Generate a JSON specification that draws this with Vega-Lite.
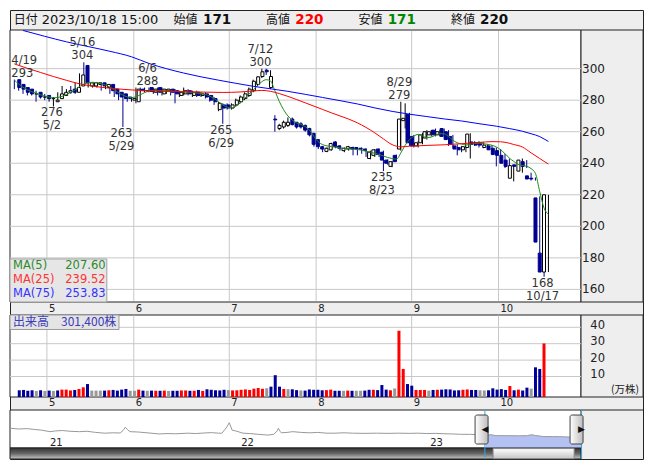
{
"$schema":"https://vega.github.io/schema/vega-lite/v6.json",
"width":633,"height":449,"autosize":"none",
"padding":{"left":10,"top":10,"right":10,"bottom":11},
"background":"#ffffff",
"config":{"view":{"fill":"#eeeeee","stroke":"#222222","strokeWidth":1},"axis":{"disable":true},"legend":{"disable":true},"text":{"font":"DejaVu Sans"}},
"datasets":{
"candles":[
{"i":0,"d":"4/19","o":293,"h":293,"l":287,"c":288,"v":1.6,"vd":"down"},
{"i":1,"d":"4/20","o":290,"h":291,"l":286,"c":287,"v":1.8,"vd":"down"},
{"i":2,"d":"4/21","o":288,"h":289,"l":284,"c":285,"v":1.3,"vd":"down"},
{"i":3,"d":"4/24","o":287,"h":288,"l":283,"c":284,"v":1.6,"vd":"down"},
{"i":4,"d":"4/25","o":284,"h":286,"l":283,"c":284,"v":1.2,"vd":"flat"},
{"i":5,"d":"4/26","o":285,"h":286,"l":279,"c":282,"v":1.6,"vd":"down"},
{"i":6,"d":"4/27","o":282,"h":284,"l":281,"c":282,"v":1.2,"vd":"flat"},
{"i":7,"d":"4/28","o":283,"h":284,"l":280,"c":281,"v":1.4,"vd":"down"},
{"i":8,"d":"5/1","o":281,"h":283,"l":279,"c":281,"v":1.2,"vd":"flat"},
{"i":9,"d":"5/2","o":279,"h":282,"l":276,"c":280,"v":1.5,"vd":"down"},
{"i":10,"d":"5/8","o":281,"h":285,"l":280,"c":284,"v":2.0,"vd":"up"},
{"i":11,"d":"5/9","o":283,"h":289,"l":282,"c":285,"v":2.0,"vd":"up"},
{"i":12,"d":"5/10","o":285,"h":287,"l":283,"c":286,"v":1.5,"vd":"up"},
{"i":13,"d":"5/11","o":287,"h":289,"l":284,"c":285,"v":1.8,"vd":"down"},
{"i":14,"d":"5/12","o":285,"h":291,"l":284,"c":288,"v":2.4,"vd":"up"},
{"i":15,"d":"5/15","o":289,"h":297,"l":288,"c":296,"v":3.4,"vd":"up"},
{"i":16,"d":"5/16","o":302,"h":304,"l":290,"c":291,"v":5.4,"vd":"down"},
{"i":17,"d":"5/17","o":289,"h":292,"l":288,"c":291,"v":1.4,"vd":"flat"},
{"i":18,"d":"5/18","o":289,"h":291,"l":288,"c":291,"v":1.4,"vd":"flat"},
{"i":19,"d":"5/19","o":290,"h":291,"l":288,"c":291,"v":1.4,"vd":"flat"},
{"i":20,"d":"5/22","o":291,"h":291,"l":286,"c":289,"v":1.4,"vd":"down"},
{"i":21,"d":"5/23","o":288,"h":291,"l":287,"c":290,"v":1.6,"vd":"up"},
{"i":22,"d":"5/24","o":290,"h":290,"l":284,"c":286,"v":1.8,"vd":"down"},
{"i":23,"d":"5/25","o":287,"h":287,"l":282,"c":284,"v":1.4,"vd":"down"},
{"i":24,"d":"5/26","o":285,"h":286,"l":280,"c":282,"v":2.0,"vd":"down"},
{"i":25,"d":"5/29","o":284,"h":285,"l":263,"c":281,"v":2.4,"vd":"down"},
{"i":26,"d":"5/30","o":282,"h":283,"l":279,"c":281,"v":1.3,"vd":"flat"},
{"i":27,"d":"5/31","o":280,"h":282,"l":279,"c":281,"v":1.3,"vd":"flat"},
{"i":28,"d":"6/1","o":279,"h":288,"l":278,"c":287,"v":2.0,"vd":"up"},
{"i":29,"d":"6/2","o":287,"h":288,"l":285,"c":286,"v":1.4,"vd":"down"},
{"i":30,"d":"6/5","o":286,"h":288,"l":285,"c":286,"v":1.3,"vd":"flat"},
{"i":31,"d":"6/6","o":288,"h":288,"l":285,"c":285.5,"v":1.4,"vd":"down"},
{"i":32,"d":"6/7","o":285,"h":288,"l":284,"c":287,"v":1.3,"vd":"up"},
{"i":33,"d":"6/8","o":288,"h":288,"l":283,"c":285,"v":1.3,"vd":"down"},
{"i":34,"d":"6/9","o":284,"h":288,"l":283,"c":287,"v":1.4,"vd":"up"},
{"i":35,"d":"6/12","o":286,"h":287,"l":284,"c":287,"v":1.2,"vd":"flat"},
{"i":36,"d":"6/13","o":287,"h":287,"l":283,"c":285,"v":1.3,"vd":"down"},
{"i":37,"d":"6/14","o":286,"h":287,"l":278,"c":284,"v":1.3,"vd":"down"},
{"i":38,"d":"6/15","o":283,"h":286,"l":282,"c":285,"v":1.5,"vd":"up"},
{"i":39,"d":"6/16","o":284,"h":288,"l":283,"c":286,"v":1.5,"vd":"up"},
{"i":40,"d":"6/19","o":286,"h":287,"l":283,"c":284,"v":1.3,"vd":"down"},
{"i":41,"d":"6/20","o":283,"h":286,"l":282,"c":285,"v":1.3,"vd":"up"},
{"i":42,"d":"6/21","o":285,"h":286,"l":282,"c":283,"v":1.8,"vd":"down"},
{"i":43,"d":"6/22","o":283,"h":285,"l":282,"c":284,"v":1.2,"vd":"up"},
{"i":44,"d":"6/23","o":284,"h":285,"l":281,"c":282,"v":2.2,"vd":"down"},
{"i":45,"d":"6/26","o":283,"h":283,"l":279,"c":280,"v":1.9,"vd":"down"},
{"i":46,"d":"6/27","o":281,"h":282,"l":277,"c":279,"v":1.6,"vd":"down"},
{"i":47,"d":"6/28","o":274,"h":279,"l":273,"c":278,"v":1.5,"vd":"down"},
{"i":48,"d":"6/29","o":277,"h":278,"l":265,"c":275,"v":1.9,"vd":"down"},
{"i":49,"d":"6/30","o":277,"h":278,"l":274,"c":275,"v":1.7,"vd":"flat"},
{"i":50,"d":"7/3","o":275,"h":278,"l":274,"c":277,"v":1.5,"vd":"up"},
{"i":51,"d":"7/4","o":277,"h":281,"l":276,"c":280,"v":1.6,"vd":"up"},
{"i":52,"d":"7/5","o":279,"h":283,"l":278,"c":282,"v":1.9,"vd":"up"},
{"i":53,"d":"7/6","o":281,"h":285,"l":280,"c":284,"v":2.1,"vd":"up"},
{"i":54,"d":"7/7","o":283,"h":288,"l":282,"c":287,"v":1.8,"vd":"up"},
{"i":55,"d":"7/10","o":286,"h":293,"l":285,"c":292,"v":2.6,"vd":"up"},
{"i":56,"d":"7/11","o":290,"h":295,"l":289,"c":294.8,"v":3.0,"vd":"up"},
{"i":57,"d":"7/12","o":295,"h":300,"l":294,"c":298,"v":2.5,"vd":"up"},
{"i":58,"d":"7/13","o":299,"h":300,"l":296,"c":298,"v":2.8,"vd":"flat"},
{"i":59,"d":"7/14","o":288,"h":299,"l":287,"c":295,"v":3.8,"vd":"down"},
{"i":60,"d":"7/18","o":268,"h":270.5,"l":260,"c":267.5,"v":10.8,"vd":"down"},
{"i":61,"d":"7/19","o":262,"h":265,"l":261,"c":264,"v":3.8,"vd":"down"},
{"i":62,"d":"7/20","o":263,"h":267,"l":262,"c":266,"v":2.4,"vd":"up"},
{"i":63,"d":"7/21","o":264,"h":269,"l":263,"c":266,"v":2.3,"vd":"flat"},
{"i":64,"d":"7/24","o":268,"h":269,"l":264,"c":264.5,"v":2.2,"vd":"down"},
{"i":65,"d":"7/25","o":266,"h":266,"l":262,"c":263,"v":1.7,"vd":"down"},
{"i":66,"d":"7/26","o":265,"h":266,"l":262,"c":263,"v":1.5,"vd":"flat"},
{"i":67,"d":"7/27","o":264,"h":264.5,"l":260,"c":261,"v":1.4,"vd":"down"},
{"i":68,"d":"7/28","o":262,"h":262.5,"l":257,"c":258,"v":2.1,"vd":"down"},
{"i":69,"d":"7/31","o":259,"h":259,"l":250.5,"c":252,"v":1.9,"vd":"down"},
{"i":70,"d":"8/1","o":255,"h":255,"l":249,"c":250.5,"v":1.9,"vd":"down"},
{"i":71,"d":"8/2","o":250.5,"h":251,"l":247,"c":249,"v":1.6,"vd":"down"},
{"i":72,"d":"8/3","o":247.5,"h":250,"l":247,"c":249.5,"v":1.7,"vd":"up"},
{"i":73,"d":"8/4","o":248.5,"h":253,"l":248,"c":252.5,"v":2.0,"vd":"up"},
{"i":74,"d":"8/7","o":253.5,"h":254,"l":249.5,"c":250.5,"v":1.3,"vd":"down"},
{"i":75,"d":"8/8","o":251,"h":251.5,"l":248,"c":249.5,"v":1.3,"vd":"down"},
{"i":76,"d":"8/9","o":248,"h":250,"l":247,"c":249.5,"v":1.3,"vd":"flat"},
{"i":77,"d":"8/10","o":249,"h":251,"l":248,"c":250.5,"v":1.4,"vd":"up"},
{"i":78,"d":"8/14","o":250,"h":250.5,"l":245,"c":249,"v":1.3,"vd":"down"},
{"i":79,"d":"8/15","o":250,"h":250,"l":245,"c":249,"v":1.3,"vd":"flat"},
{"i":80,"d":"8/16","o":249.5,"h":250,"l":246,"c":249,"v":1.3,"vd":"flat"},
{"i":81,"d":"8/17","o":249,"h":249.5,"l":244,"c":248,"v":1.4,"vd":"down"},
{"i":82,"d":"8/18","o":243,"h":248,"l":242.5,"c":247,"v":1.9,"vd":"down"},
{"i":83,"d":"8/21","o":245,"h":249,"l":244,"c":248.5,"v":1.9,"vd":"up"},
{"i":84,"d":"8/22","o":249,"h":249.5,"l":244,"c":245.5,"v":1.7,"vd":"down"},
{"i":85,"d":"8/23","o":247,"h":248,"l":235,"c":242,"v":4.8,"vd":"down"},
{"i":86,"d":"8/24","o":242,"h":242.5,"l":239,"c":240,"v":2.0,"vd":"down"},
{"i":87,"d":"8/25","o":238,"h":241.5,"l":237.5,"c":241,"v":1.6,"vd":"up"},
{"i":88,"d":"8/28","o":245,"h":245.5,"l":241,"c":241,"v":2.7,"vd":"flat"},
{"i":89,"d":"8/29","o":249,"h":279,"l":248,"c":268,"v":37.9,"vd":"up"},
{"i":90,"d":"8/30","o":267,"h":278,"l":262,"c":268.5,"v":14.6,"vd":"up"},
{"i":91,"d":"8/31","o":271,"h":272,"l":251,"c":253,"v":5.4,"vd":"down"},
{"i":92,"d":"9/1","o":257,"h":258,"l":250,"c":251,"v":4.4,"vd":"down"},
{"i":93,"d":"9/4","o":251,"h":254,"l":250,"c":253,"v":1.8,"vd":"up"},
{"i":94,"d":"9/5","o":253,"h":259,"l":252,"c":258,"v":1.8,"vd":"up"},
{"i":95,"d":"9/6","o":256,"h":261,"l":255,"c":260,"v":1.8,"vd":"up"},
{"i":96,"d":"9/7","o":258,"h":261,"l":257,"c":260,"v":1.4,"vd":"flat"},
{"i":97,"d":"9/8","o":261,"h":262,"l":257,"c":258,"v":1.8,"vd":"down"},
{"i":98,"d":"9/11","o":258,"h":261,"l":257,"c":260,"v":1.9,"vd":"up"},
{"i":99,"d":"9/12","o":262,"h":262,"l":255,"c":257,"v":2.0,"vd":"down"},
{"i":100,"d":"9/13","o":260,"h":261,"l":251,"c":255,"v":2.2,"vd":"down"},
{"i":101,"d":"9/14","o":257,"h":258,"l":250,"c":252,"v":2.1,"vd":"down"},
{"i":102,"d":"9/15","o":251,"h":252,"l":245,"c":249,"v":1.5,"vd":"down"},
{"i":103,"d":"9/19","o":250,"h":251,"l":247,"c":248.5,"v":1.6,"vd":"down"},
{"i":104,"d":"9/20","o":248.5,"h":251,"l":247,"c":250.5,"v":1.9,"vd":"up"},
{"i":105,"d":"9/21","o":250,"h":259,"l":243,"c":258.5,"v":2.1,"vd":"up"},
{"i":106,"d":"9/22","o":253.5,"h":254,"l":251,"c":252,"v":1.8,"vd":"down"},
{"i":107,"d":"9/25","o":253,"h":254,"l":250,"c":251.5,"v":1.8,"vd":"down"},
{"i":108,"d":"9/26","o":253,"h":253.5,"l":249.5,"c":251.5,"v":1.6,"vd":"flat"},
{"i":109,"d":"9/27","o":250,"h":252,"l":249,"c":251.5,"v":1.5,"vd":"flat"},
{"i":110,"d":"9/28","o":251,"h":251.5,"l":247,"c":248.5,"v":1.6,"vd":"down"},
{"i":111,"d":"9/29","o":249.5,"h":250,"l":238,"c":245.5,"v":2.8,"vd":"down"},
{"i":112,"d":"10/2","o":248,"h":249,"l":244,"c":245,"v":2.0,"vd":"down"},
{"i":113,"d":"10/3","o":245,"h":246,"l":237,"c":240,"v":2.3,"vd":"down"},
{"i":114,"d":"10/4","o":242,"h":243,"l":236,"c":238,"v":1.8,"vd":"down"},
{"i":115,"d":"10/5","o":230.5,"h":239,"l":228.5,"c":238.5,"v":4.2,"vd":"up"},
{"i":116,"d":"10/6","o":239,"h":240,"l":237,"c":238,"v":1.6,"vd":"down"},
{"i":117,"d":"10/10","o":235,"h":243,"l":234,"c":242,"v":2.0,"vd":"up"},
{"i":118,"d":"10/11","o":241,"h":242,"l":237,"c":238,"v":1.4,"vd":"down"},
{"i":119,"d":"10/12","o":232,"h":234,"l":229,"c":230,"v":3.2,"vd":"down"},
{"i":120,"d":"10/13","o":230.5,"h":231,"l":229,"c":230,"v":2.6,"vd":"flat"},
{"i":121,"d":"10/16","o":218,"h":219,"l":183,"c":190,"v":15.6,"vd":"down"},
{"i":122,"d":"10/17","o":183,"h":184,"l":168,"c":171,"v":14.6,"vd":"down"},
{"i":123,"d":"10/18","o":171,"h":220,"l":171,"c":220,"v":30.14,"vd":"up"}
],
"ma":[
{"i":0,"p":292.8,"ma":"MA5"},{"i":1,"p":290.2,"ma":"MA5"},{"i":2,"p":288.2,"ma":"MA5"},{"i":3,"p":286.6,"ma":"MA5"},{"i":4,"p":285.4,"ma":"MA5"},{"i":5,"p":284.4,"ma":"MA5"},{"i":6,"p":283.4,"ma":"MA5"},{"i":7,"p":282.6,"ma":"MA5"},{"i":8,"p":282,"ma":"MA5"},{"i":9,"p":281.5,"ma":"MA5"},
{"i":10,"p":281.7,"ma":"MA5"},{"i":11,"p":282.4,"ma":"MA5"},{"i":12,"p":283.6,"ma":"MA5"},{"i":13,"p":285,"ma":"MA5"},{"i":14,"p":286.5,"ma":"MA5"},{"i":15,"p":288.6,"ma":"MA5"},{"i":16,"p":290.2,"ma":"MA5"},{"i":17,"p":291,"ma":"MA5"},{"i":18,"p":291.3,"ma":"MA5"},{"i":19,"p":291.2,"ma":"MA5"},
{"i":20,"p":290.4,"ma":"MA5"},{"i":21,"p":289.6,"ma":"MA5"},{"i":22,"p":288.2,"ma":"MA5"},{"i":23,"p":286.6,"ma":"MA5"},{"i":24,"p":284.8,"ma":"MA5"},{"i":25,"p":283.2,"ma":"MA5"},{"i":26,"p":282.1,"ma":"MA5"},{"i":27,"p":281.6,"ma":"MA5"},{"i":28,"p":282.2,"ma":"MA5"},{"i":29,"p":283.4,"ma":"MA5"},
{"i":30,"p":284.8,"ma":"MA5"},{"i":31,"p":285.7,"ma":"MA5"},{"i":32,"p":286.2,"ma":"MA5"},{"i":33,"p":286.1,"ma":"MA5"},{"i":34,"p":286,"ma":"MA5"},{"i":35,"p":286.1,"ma":"MA5"},{"i":36,"p":285.9,"ma":"MA5"},{"i":37,"p":285.6,"ma":"MA5"},{"i":38,"p":285.4,"ma":"MA5"},{"i":39,"p":285.3,"ma":"MA5"},
{"i":40,"p":285,"ma":"MA5"},{"i":41,"p":284.8,"ma":"MA5"},{"i":42,"p":284.5,"ma":"MA5"},{"i":43,"p":284.2,"ma":"MA5"},{"i":44,"p":283.6,"ma":"MA5"},{"i":45,"p":282.6,"ma":"MA5"},{"i":46,"p":281,"ma":"MA5"},{"i":47,"p":279,"ma":"MA5"},{"i":48,"p":277,"ma":"MA5"},{"i":49,"p":275.6,"ma":"MA5"},
{"i":50,"p":275,"ma":"MA5"},{"i":51,"p":276.2,"ma":"MA5"},{"i":52,"p":278.2,"ma":"MA5"},{"i":53,"p":281,"ma":"MA5"},{"i":54,"p":283.8,"ma":"MA5"},{"i":55,"p":286.4,"ma":"MA5"},{"i":56,"p":289.2,"ma":"MA5"},{"i":57,"p":291.7,"ma":"MA5"},{"i":58,"p":293,"ma":"MA5"},{"i":59,"p":292.2,"ma":"MA5"},
{"i":60,"p":286,"ma":"MA5"},{"i":61,"p":279.3,"ma":"MA5"},{"i":62,"p":274,"ma":"MA5"},{"i":63,"p":270,"ma":"MA5"},{"i":64,"p":267.3,"ma":"MA5"},{"i":65,"p":265.6,"ma":"MA5"},{"i":66,"p":264.6,"ma":"MA5"},{"i":67,"p":263.2,"ma":"MA5"},{"i":68,"p":261,"ma":"MA5"},{"i":69,"p":257,"ma":"MA5"},
{"i":70,"p":253.6,"ma":"MA5"},{"i":71,"p":251.8,"ma":"MA5"},{"i":72,"p":251,"ma":"MA5"},{"i":73,"p":250.6,"ma":"MA5"},{"i":74,"p":250.2,"ma":"MA5"},{"i":75,"p":249.7,"ma":"MA5"},{"i":76,"p":249.4,"ma":"MA5"},{"i":77,"p":249.2,"ma":"MA5"},{"i":78,"p":249,"ma":"MA5"},{"i":79,"p":248.7,"ma":"MA5"},
{"i":80,"p":248.3,"ma":"MA5"},{"i":81,"p":247.7,"ma":"MA5"},{"i":82,"p":247,"ma":"MA5"},{"i":83,"p":246.3,"ma":"MA5"},{"i":84,"p":245.6,"ma":"MA5"},{"i":85,"p":244.6,"ma":"MA5"},{"i":86,"p":243.6,"ma":"MA5"},{"i":87,"p":243,"ma":"MA5"},{"i":88,"p":242.6,"ma":"MA5"},{"i":89,"p":246.5,"ma":"MA5"},
{"i":90,"p":251.4,"ma":"MA5"},{"i":91,"p":255,"ma":"MA5"},{"i":92,"p":257.2,"ma":"MA5"},{"i":93,"p":258.3,"ma":"MA5"},{"i":94,"p":257.3,"ma":"MA5"},{"i":95,"p":256.3,"ma":"MA5"},{"i":96,"p":256.6,"ma":"MA5"},{"i":97,"p":257.8,"ma":"MA5"},{"i":98,"p":258.8,"ma":"MA5"},{"i":99,"p":258.6,"ma":"MA5"},
{"i":100,"p":257,"ma":"MA5"},{"i":101,"p":254.6,"ma":"MA5"},{"i":102,"p":253,"ma":"MA5"},{"i":103,"p":252.2,"ma":"MA5"},{"i":104,"p":251.6,"ma":"MA5"},{"i":105,"p":252,"ma":"MA5"},{"i":106,"p":252.5,"ma":"MA5"},{"i":107,"p":252.7,"ma":"MA5"},{"i":108,"p":252.4,"ma":"MA5"},{"i":109,"p":252,"ma":"MA5"},
{"i":110,"p":251.4,"ma":"MA5"},{"i":111,"p":250.3,"ma":"MA5"},{"i":112,"p":248.5,"ma":"MA5"},{"i":113,"p":246,"ma":"MA5"},{"i":114,"p":243.3,"ma":"MA5"},{"i":115,"p":241.2,"ma":"MA5"},{"i":116,"p":239.4,"ma":"MA5"},{"i":117,"p":238.6,"ma":"MA5"},{"i":118,"p":238.1,"ma":"MA5"},{"i":119,"p":236.6,"ma":"MA5"},
{"i":120,"p":233.6,"ma":"MA5"},{"i":121,"p":222,"ma":"MA5"},{"i":122,"p":211.5,"ma":"MA5"},{"i":123,"p":207.6,"ma":"MA5"},
{"i":0,"p":303,"ma":"MA25"},{"i":3,"p":300.2,"ma":"MA25"},{"i":6,"p":297.6,"ma":"MA25"},{"i":9,"p":295,"ma":"MA25"},{"i":12,"p":292.6,"ma":"MA25"},{"i":15,"p":290.4,"ma":"MA25"},{"i":18,"p":288.9,"ma":"MA25"},{"i":21,"p":287.9,"ma":"MA25"},{"i":24,"p":287.1,"ma":"MA25"},{"i":28,"p":286.3,"ma":"MA25"},
{"i":32,"p":285.8,"ma":"MA25"},{"i":36,"p":285.5,"ma":"MA25"},{"i":40,"p":285.3,"ma":"MA25"},{"i":44,"p":285.1,"ma":"MA25"},{"i":48,"p":284.9,"ma":"MA25"},{"i":52,"p":285.2,"ma":"MA25"},{"i":55,"p":285.8,"ma":"MA25"},{"i":57,"p":286.2,"ma":"MA25"},{"i":59,"p":285.6,"ma":"MA25"},{"i":61,"p":284.2,"ma":"MA25"},
{"i":63,"p":282.4,"ma":"MA25"},{"i":65,"p":280.4,"ma":"MA25"},{"i":67,"p":278.3,"ma":"MA25"},{"i":69,"p":276.2,"ma":"MA25"},{"i":71,"p":274.1,"ma":"MA25"},{"i":73,"p":272,"ma":"MA25"},{"i":75,"p":270,"ma":"MA25"},{"i":77,"p":268,"ma":"MA25"},{"i":79,"p":265.6,"ma":"MA25"},{"i":81,"p":262.7,"ma":"MA25"},
{"i":83,"p":259.3,"ma":"MA25"},{"i":85,"p":255.4,"ma":"MA25"},{"i":87,"p":251.8,"ma":"MA25"},{"i":89,"p":250.4,"ma":"MA25"},{"i":91,"p":250.8,"ma":"MA25"},{"i":95,"p":251.3,"ma":"MA25"},{"i":99,"p":251.7,"ma":"MA25"},{"i":103,"p":252.4,"ma":"MA25"},{"i":107,"p":253.2,"ma":"MA25"},{"i":110,"p":253.7,"ma":"MA25"},
{"i":112,"p":253.6,"ma":"MA25"},{"i":113,"p":253.3,"ma":"MA25"},{"i":115,"p":251.9,"ma":"MA25"},{"i":117,"p":250.3,"ma":"MA25"},{"i":119,"p":246.6,"ma":"MA25"},{"i":121,"p":243,"ma":"MA25"},{"i":122,"p":241.2,"ma":"MA25"},{"i":123,"p":239.52,"ma":"MA25"},
{"i":2,"p":324.2,"ma":"MA75"},{"i":7,"p":320.5,"ma":"MA75"},{"i":12,"p":317,"ma":"MA75"},{"i":17,"p":314,"ma":"MA75"},{"i":22,"p":311,"ma":"MA75"},{"i":27,"p":307.5,"ma":"MA75"},{"i":31,"p":303.3,"ma":"MA75"},{"i":35,"p":300,"ma":"MA75"},{"i":39,"p":297.2,"ma":"MA75"},{"i":43,"p":294.8,"ma":"MA75"},
{"i":47,"p":292.7,"ma":"MA75"},{"i":51,"p":290.7,"ma":"MA75"},{"i":55,"p":288.8,"ma":"MA75"},{"i":59,"p":287.2,"ma":"MA75"},{"i":63,"p":285.6,"ma":"MA75"},{"i":67,"p":283.7,"ma":"MA75"},{"i":71,"p":281.7,"ma":"MA75"},{"i":75,"p":279.7,"ma":"MA75"},{"i":79,"p":277.6,"ma":"MA75"},{"i":83,"p":275.1,"ma":"MA75"},
{"i":87,"p":272.9,"ma":"MA75"},{"i":91,"p":271.1,"ma":"MA75"},{"i":95,"p":269.6,"ma":"MA75"},{"i":99,"p":268.1,"ma":"MA75"},{"i":103,"p":266.8,"ma":"MA75"},{"i":107,"p":265.1,"ma":"MA75"},{"i":111,"p":263.5,"ma":"MA75"},{"i":114,"p":262,"ma":"MA75"},{"i":117,"p":260.3,"ma":"MA75"},{"i":119,"p":258.7,"ma":"MA75"},
{"i":121,"p":256.9,"ma":"MA75"},{"i":122,"p":255.4,"ma":"MA75"},{"i":123,"p":253.83,"ma":"MA75"}
],
"notes":[
{"i":0,"p":293,"t":"4/19\n293","k":"first"},
{"i":16,"p":304,"t":"5/16\n304","k":"high"},
{"i":31,"p":288,"t":"6/6\n288","k":"high"},
{"i":57,"p":300,"t":"7/12\n300","k":"high"},
{"i":89,"p":279,"t":"8/29\n279","k":"high"},
{"i":9,"p":276,"t":"276\n5/2","k":"low"},
{"i":25,"p":263,"t":"263\n5/29","k":"low"},
{"i":48,"p":265,"t":"265\n6/29","k":"low"},
{"i":85,"p":235,"t":"235\n8/23","k":"low"},
{"i":122,"p":168,"t":"168\n10/17","k":"low"}
],
"pticks":[{"p":160},{"p":180},{"p":200},{"p":220},{"p":240},{"p":260},{"p":280},{"p":300}],
"vticks":[{"v":10},{"v":20},{"v":30},{"v":40}],
"months":[{"b":7.5,"m":"5"},{"b":27.5,"m":"6"},{"b":49.5,"m":"7"},{"b":69.5,"m":"8"},{"b":91.5,"m":"9"},{"b":111.5,"m":"10"}],
"legend":[{"name":"MA(5)","val":"207.60"},{"name":"MA(25)","val":"239.52"},{"name":"MA(75)","val":"253.83"}],
"hdr":[{"f":"open","k":"始値","v":"171"},{"f":"high","k":"高値","v":"220"},{"f":"low","k":"安値","v":"171"},{"f":"close","k":"終値","v":"220"}],
"years":[{"t":7,"y":"21"},{"t":40.5,"y":"22"},{"t":73.6,"y":"23"}],
"sel":[{"t":83.17,"a":"◀"},{"t":100.1,"a":"▶"}],
"nav":[
{"t":0,"v":5.2},{"t":1.5,"v":5.0},{"t":3,"v":5.1},{"t":4.1,"v":4.9},{"t":5.5,"v":4.7},{"t":7,"v":4.3},{"t":8,"v":4.5},{"t":9.2,"v":4.6},{"t":10.5,"v":4.4},{"t":12.2,"v":4.3},
{"t":13.5,"v":4.4},{"t":15,"v":4.1},{"t":16.6,"v":3.9},{"t":18,"v":4.0},{"t":19.3,"v":3.95},{"t":19.8,"v":4.6},{"t":20.2,"v":5.45},{"t":20.6,"v":4.8},{"t":21,"v":4.3},{"t":22.5,"v":4.2},
{"t":24,"v":4.0},{"t":26.1,"v":3.7},{"t":27.5,"v":3.8},{"t":29,"v":3.75},{"t":31.2,"v":3.9},{"t":32.5,"v":3.8},{"t":34,"v":3.95},{"t":35.3,"v":4.05},{"t":36.5,"v":3.9},{"t":37.1,"v":3.9},
{"t":37.6,"v":4.8},{"t":38,"v":5.6},{"t":38.4,"v":6.66},{"t":38.7,"v":5.5},{"t":38.9,"v":4.7},{"t":39.5,"v":4.5},{"t":40.8,"v":3.9},{"t":42,"v":3.8},{"t":43.5,"v":3.6},{"t":45.2,"v":3.4},
{"t":46.2,"v":3.6},{"t":46.8,"v":4.5},{"t":47,"v":5.2},{"t":47.3,"v":4.4},{"t":47.5,"v":4.0},{"t":48.5,"v":4.1},{"t":49.5,"v":4.3},{"t":51,"v":4.1},{"t":52.5,"v":4.0},{"t":53.9,"v":4.1},
{"t":55.5,"v":3.9},{"t":56.9,"v":3.9},{"t":58.5,"v":4.0},{"t":60,"v":3.9},{"t":62,"v":3.85},{"t":64.2,"v":3.9},{"t":66,"v":3.85},{"t":68,"v":3.9},{"t":70,"v":3.85},{"t":71.5,"v":3.9},
{"t":73,"v":3.8},{"t":74.5,"v":3.85},{"t":76,"v":3.75},{"t":77.5,"v":3.7},{"t":78.9,"v":3.6},{"t":80.5,"v":3.6},{"t":82,"v":3.5},{"t":83.3,"v":3.4},{"t":84.2,"v":3.5},{"t":85.1,"v":3.25},
{"t":87,"v":3.25},{"t":89,"v":3.2},{"t":90.6,"v":3.25},{"t":91.3,"v":3.5},{"t":92,"v":3.3},{"t":93.5,"v":3.0},{"t":95,"v":3.0},{"t":97,"v":2.95},{"t":99,"v":2.8},{"t":100,"v":2.7}
]
},
"resolve":{"scale":{"x":"independent","y":"independent","color":"independent","fill":"independent","stroke":"independent"}},
"layer":[
{"data":{"values":[{}]},"mark":{"type":"rect","fill":"#ffffff","stroke":"#222222","strokeWidth":1},"encoding":{"x":{"datum":-1,"type":"quantitative","scale":{"domain":[-1,130.5],"range":[0,571],"nice":false,"zero":false}},"x2":{"datum":130.5},"y":{"datum":152,"type":"quantitative","scale":{"domain":[152,324.5],"range":[292,20],"nice":false,"zero":false}},"y2":{"datum":324.5}}},
{"data":{"values":[{}]},"mark":{"type":"rect","fill":"#eeeeee","stroke":"#222222","strokeWidth":1},"encoding":{"x":{"datum":130.5,"type":"quantitative","scale":{"domain":[-1,130.5],"range":[0,571],"nice":false,"zero":false}},"x2":{"datum":144.8},"y":{"datum":152,"type":"quantitative","scale":{"domain":[152,324.5],"range":[292,20],"nice":false,"zero":false}},"y2":{"datum":324.5}}},
{"data":{"values":[{}]},"mark":{"type":"rect","fill":"#ffffff","stroke":"#222222","strokeWidth":1},"encoding":{"x":{"datum":-1,"type":"quantitative","scale":{"domain":[-1,130.5],"range":[0,571],"nice":false,"zero":false}},"x2":{"datum":130.5},"y":{"datum":-2.5,"type":"quantitative","scale":{"domain":[-2.5,47.5],"range":[387,305],"nice":false,"zero":false}},"y2":{"datum":47.5}}},
{"data":{"values":[{}]},"mark":{"type":"rect","fill":"#eeeeee","stroke":"#222222","strokeWidth":1},"encoding":{"x":{"datum":130.5,"type":"quantitative","scale":{"domain":[-1,130.5],"range":[0,571],"nice":false,"zero":false}},"x2":{"datum":144.8},"y":{"datum":-2.5,"type":"quantitative","scale":{"domain":[-2.5,47.5],"range":[387,305],"nice":false,"zero":false}},"y2":{"datum":47.5}}},
{"data":{"values":[{}]},"mark":{"type":"rect","fill":"#ffffff","stroke":"#222222","strokeWidth":1},"encoding":{"x":{"datum":0,"type":"quantitative","scale":{"domain":[0,100],"range":[0,571],"nice":false,"zero":false}},"x2":{"datum":100},"y":{"datum":0,"type":"quantitative","scale":{"domain":[0,10],"range":[438,400],"nice":false,"zero":false}},"y2":{"datum":10}}},
{"data":{"values":[{}]},"mark":{"type":"rule","stroke":"#222222","strokeWidth":1},"encoding":{"x":{"datum":100,"type":"quantitative","scale":{"domain":[0,100],"range":[0,571],"nice":false,"zero":false}},"x2":{"datum":110.9},"y":{"datum":10,"type":"quantitative","scale":{"domain":[0,10],"range":[438,400],"nice":false,"zero":false}}}},
{"data":{"name":"pticks"},"mark":{"type":"rule","stroke":"#c8c8c8","strokeWidth":1},"encoding":{"x":{"datum":-1,"type":"quantitative","scale":{"domain":[-1,130.5],"range":[0,571],"nice":false,"zero":false}},"x2":{"datum":130.5},"y":{"field":"p","type":"quantitative","scale":{"domain":[152,324.5],"range":[292,20],"nice":false,"zero":false}}}},
{"data":{"name":"months"},"mark":{"type":"rule","stroke":"#c8c8c8","strokeWidth":1},"encoding":{"x":{"field":"b","type":"quantitative","scale":{"domain":[-1,130.5],"range":[0,571],"nice":false,"zero":false}},"y":{"datum":152.6,"type":"quantitative","scale":{"domain":[152,324.5],"range":[292,20],"nice":false,"zero":false}},"y2":{"datum":323.9}}},
{"data":{"name":"vticks"},"mark":{"type":"rule","stroke":"#c8c8c8","strokeWidth":1},"encoding":{"x":{"datum":-1,"type":"quantitative","scale":{"domain":[-1,130.5],"range":[0,571],"nice":false,"zero":false}},"x2":{"datum":130.5},"y":{"field":"v","type":"quantitative","scale":{"domain":[-2.5,47.5],"range":[387,305],"nice":false,"zero":false}}}},
{"data":{"name":"months"},"mark":{"type":"rule","stroke":"#c8c8c8","strokeWidth":1},"encoding":{"x":{"field":"b","type":"quantitative","scale":{"domain":[-1,130.5],"range":[0,571],"nice":false,"zero":false}},"y":{"datum":-2.2,"type":"quantitative","scale":{"domain":[-2.5,47.5],"range":[387,305],"nice":false,"zero":false}},"y2":{"datum":47.2}}},
{"data":{"values":[{}]},"mark":{"type":"rect","fill":"#e6e6e6","stroke":"#a0a0a0","strokeWidth":1},"encoding":{"x":{"datum":-1,"type":"quantitative","scale":{"domain":[-1,130.5],"range":[0,571],"nice":false,"zero":false}},"x2":{"datum":21.3},"y":{"datum":152,"type":"quantitative","scale":{"domain":[152,324.5],"range":[292,20],"nice":false,"zero":false}},"y2":{"datum":179.3}}},
{"data":{"name":"legend"},"mark":{"type":"text","align":"left","baseline":"middle","fontSize":11.5},"encoding":{"x":{"datum":-0.3,"type":"quantitative","scale":{"domain":[-1,130.5],"range":[0,571],"nice":false,"zero":false}},"y":{"field":"name","type":"nominal","scale":{"type":"point","domain":["MA(5)","MA(25)","MA(75)"],"range":[255.7,284],"padding":0}},"text":{"field":"name"},"color":{"field":"name","type":"nominal","scale":{"domain":["MA(5)","MA(25)","MA(75)"],"range":["#2a8a2a","#ff3333","#3333ff"]},"legend":null}}},
{"data":{"name":"legend"},"mark":{"type":"text","align":"right","baseline":"middle","fontSize":11.5},"encoding":{"x":{"datum":21.0,"type":"quantitative","scale":{"domain":[-1,130.5],"range":[0,571],"nice":false,"zero":false}},"y":{"field":"name","type":"nominal","scale":{"type":"point","domain":["MA(5)","MA(25)","MA(75)"],"range":[255.7,284],"padding":0}},"text":{"field":"val"},"color":{"field":"name","type":"nominal","scale":{"domain":["MA(5)","MA(25)","MA(75)"],"range":["#2a8a2a","#ff3333","#3333ff"]},"legend":null}}},
{"data":{"name":"candles"},"mark":{"type":"rule","strokeWidth":1},"encoding":{"x":{"field":"i","type":"quantitative","scale":{"domain":[-1,130.5],"range":[0,571],"nice":false,"zero":false}},"y":{"field":"l","type":"quantitative","scale":{"domain":[152,324.5],"range":[292,20],"nice":false,"zero":false}},"y2":{"field":"h"},"stroke":{"condition":{"test":"datum.c >= datum.o","value":"#000000"},"value":"#000090"}}},
{"data":{"name":"candles"},"mark":{"type":"bar","size":3,"strokeWidth":1},"encoding":{"x":{"field":"i","type":"quantitative","scale":{"domain":[-1,130.5],"range":[0,571],"nice":false,"zero":false}},"y":{"field":"o","type":"quantitative","scale":{"domain":[152,324.5],"range":[292,20],"nice":false,"zero":false}},"y2":{"field":"c"},"fill":{"condition":{"test":"datum.c >= datum.o","value":"#ffffff"},"value":"#000090"},"stroke":{"condition":{"test":"datum.c >= datum.o","value":"#000000"},"value":"#000090"}}},
{"data":{"name":"ma"},"mark":{"type":"line","strokeWidth":1,"interpolate":"monotone"},"encoding":{"x":{"field":"i","type":"quantitative","scale":{"domain":[-1,130.5],"range":[0,571],"nice":false,"zero":false}},"y":{"field":"p","type":"quantitative","scale":{"domain":[152,324.5],"range":[292,20],"nice":false,"zero":false}},"color":{"field":"ma","type":"nominal","scale":{"domain":["MA5","MA25","MA75"],"range":["#1e8c1e","#ff0000","#0000ff"]},"legend":null}}},
{"data":{"name":"notes"},"transform":[{"filter":"datum.k == 'high'"}],"mark":{"type":"text","align":"center","baseline":"bottom","dx":-1.5,"dy":-14,"fontSize":11.5,"lineBreak":"\n","lineHeight":13,"fill":"#333333"},"encoding":{"x":{"field":"i","type":"quantitative","scale":{"domain":[-1,130.5],"range":[0,571],"nice":false,"zero":false}},"y":{"field":"p","type":"quantitative","scale":{"domain":[152,324.5],"range":[292,20],"nice":false,"zero":false}},"text":{"field":"t"}}},
{"data":{"name":"notes"},"transform":[{"filter":"datum.k == 'first'"}],"mark":{"type":"text","align":"left","baseline":"bottom","dx":-3,"dy":-14,"fontSize":11.5,"lineBreak":"\n","lineHeight":13,"fill":"#333333"},"encoding":{"x":{"field":"i","type":"quantitative","scale":{"domain":[-1,130.5],"range":[0,571],"nice":false,"zero":false}},"y":{"field":"p","type":"quantitative","scale":{"domain":[152,324.5],"range":[292,20],"nice":false,"zero":false}},"text":{"field":"t"}}},
{"data":{"name":"notes"},"transform":[{"filter":"datum.k == 'low'"}],"mark":{"type":"text","align":"center","baseline":"top","dx":-1.5,"dy":1,"fontSize":11.5,"lineBreak":"\n","lineHeight":13,"fill":"#333333"},"encoding":{"x":{"field":"i","type":"quantitative","scale":{"domain":[-1,130.5],"range":[0,571],"nice":false,"zero":false}},"y":{"field":"p","type":"quantitative","scale":{"domain":[152,324.5],"range":[292,20],"nice":false,"zero":false}},"text":{"field":"t"}}},
{"data":{"name":"pticks"},"mark":{"type":"text","align":"right","baseline":"middle","dx":24,"fontSize":12,"fill":"#222222"},"encoding":{"x":{"datum":130.5,"type":"quantitative","scale":{"domain":[-1,130.5],"range":[0,571],"nice":false,"zero":false}},"y":{"field":"p","type":"quantitative","scale":{"domain":[152,324.5],"range":[292,20],"nice":false,"zero":false}},"text":{"field":"p","type":"quantitative"}}},
{"data":{"name":"months"},"mark":{"type":"text","align":"left","baseline":"middle","dx":2,"dy":6.5,"fontSize":10,"fill":"#222222"},"encoding":{"x":{"field":"b","type":"quantitative","scale":{"domain":[-1,130.5],"range":[0,571],"nice":false,"zero":false}},"y":{"datum":152,"type":"quantitative","scale":{"domain":[152,324.5],"range":[292,20],"nice":false,"zero":false}},"text":{"field":"m"}}},
{"data":{"name":"candles"},"mark":{"type":"bar","size":3},"encoding":{"x":{"field":"i","type":"quantitative","scale":{"domain":[-1,130.5],"range":[0,571],"nice":false,"zero":false}},"y":{"field":"v","type":"quantitative","scale":{"domain":[-2.5,47.5],"range":[387,305],"nice":false,"zero":false}},"y2":{"datum":-2.5},"color":{"field":"vd","type":"nominal","scale":{"domain":["up","down","flat"],"range":["#ff0000","#000099","#999999"]},"legend":null}}},
{"data":{"values":[{}]},"mark":{"type":"rect","fill":"#e4e4e4","stroke":"#9a9a9a","strokeWidth":1},"encoding":{"x":{"datum":-1,"type":"quantitative","scale":{"domain":[-1,130.5],"range":[0,571],"nice":false,"zero":false}},"x2":{"datum":24.1},"y":{"datum":38.66,"type":"quantitative","scale":{"domain":[-2.5,47.5],"range":[387,305],"nice":false,"zero":false}},"y2":{"datum":47.5}}},
{"data":{"values":[{"label":"出来高　301,400株"}]},"mark":{"type":"text","align":"left","baseline":"middle","font":"Noto Sans CJK JP","fontSize":12,"fill":"#3b3bbb"},"encoding":{"x":{"datum":-0.3,"type":"quantitative","scale":{"domain":[-1,130.5],"range":[0,571],"nice":false,"zero":false}},"y":{"datum":43.05,"type":"quantitative","scale":{"domain":[-2.5,47.5],"range":[387,305],"nice":false,"zero":false}},"text":{"field":"label"}}},
{"data":{"name":"vticks"},"mark":{"type":"text","align":"right","baseline":"middle","dx":24,"dy":-1.5,"fontSize":11.5,"fill":"#222222"},"encoding":{"x":{"datum":130.5,"type":"quantitative","scale":{"domain":[-1,130.5],"range":[0,571],"nice":false,"zero":false}},"y":{"field":"v","type":"quantitative","scale":{"domain":[-2.5,47.5],"range":[387,305],"nice":false,"zero":false}},"text":{"field":"v","type":"quantitative"}}},
{"data":{"values":[{"unit":"(万株)"}]},"mark":{"type":"text","align":"right","baseline":"middle","dx":58,"font":"Noto Sans CJK JP","fontSize":10.5,"fill":"#222222"},"encoding":{"x":{"datum":130.5,"type":"quantitative","scale":{"domain":[-1,130.5],"range":[0,571],"nice":false,"zero":false}},"y":{"datum":1.77,"type":"quantitative","scale":{"domain":[-2.5,47.5],"range":[387,305],"nice":false,"zero":false}},"text":{"field":"unit"}}},
{"data":{"name":"months"},"mark":{"type":"text","align":"left","baseline":"middle","dx":2,"dy":6,"fontSize":10,"fill":"#222222"},"encoding":{"x":{"field":"b","type":"quantitative","scale":{"domain":[-1,130.5],"range":[0,571],"nice":false,"zero":false}},"y":{"datum":-2.5,"type":"quantitative","scale":{"domain":[-2.5,47.5],"range":[387,305],"nice":false,"zero":false}},"text":{"field":"m"}}},
{"data":{"name":"nav"},"transform":[{"filter":"datum.t >= 83"}],"mark":{"type":"area","fill":"#b3c2f2"},"encoding":{"x":{"field":"t","type":"quantitative","scale":{"domain":[0,100],"range":[0,571],"nice":false,"zero":false}},"y":{"field":"v","type":"quantitative","scale":{"domain":[0,10],"range":[438,400],"nice":false,"zero":false}},"y2":{"datum":0}}},
{"data":{"name":"nav"},"mark":{"type":"line","stroke":"#999999","strokeWidth":1},"encoding":{"x":{"field":"t","type":"quantitative","scale":{"domain":[0,100],"range":[0,571],"nice":false,"zero":false}},"y":{"field":"v","type":"quantitative","scale":{"domain":[0,10],"range":[438,400],"nice":false,"zero":false}}}},
{"data":{"name":"years"},"mark":{"type":"text","align":"left","baseline":"middle","fontSize":10,"fill":"#222222"},"encoding":{"x":{"field":"t","type":"quantitative","scale":{"domain":[0,100],"range":[0,571],"nice":false,"zero":false}},"y":{"datum":1.3,"type":"quantitative","scale":{"domain":[0,10],"range":[438,400],"nice":false,"zero":false}},"text":{"field":"y"}}},
{"data":{"values":[{}]},"mark":{"type":"rect","stroke":"#222222","strokeWidth":1,"fill":{"gradient":"linear","x1":0,"y1":0,"x2":0,"y2":1,"stops":[{"offset":0,"color":"#333333"},{"offset":0.5,"color":"#666666"},{"offset":1,"color":"#c8c8c8"}]}},"encoding":{"x":{"datum":0,"type":"quantitative","scale":{"domain":[0,100],"range":[0,571],"nice":false,"zero":false}},"x2":{"datum":100},"y":{"datum":-2.89,"type":"quantitative","scale":{"domain":[0,10],"range":[438,400],"nice":false,"zero":false}},"y2":{"datum":0}}},
{"data":{"values":[{}]},"mark":{"type":"rect","stroke":"#888888","strokeWidth":1,"fill":{"gradient":"linear","x1":0,"y1":0,"x2":0,"y2":1,"stops":[{"offset":0,"color":"#ffffff"},{"offset":1,"color":"#c4c4c4"}]}},"encoding":{"x":{"datum":84.6,"type":"quantitative","scale":{"domain":[0,100],"range":[0,571],"nice":false,"zero":false}},"x2":{"datum":98.8},"y":{"datum":-2.8,"type":"quantitative","scale":{"domain":[0,10],"range":[438,400],"nice":false,"zero":false}},"y2":{"datum":-0.15}}},
{"data":{"name":"sel"},"mark":{"type":"rule","stroke":"#33aadd","strokeWidth":1},"encoding":{"x":{"field":"t","type":"quantitative","scale":{"domain":[0,100],"range":[0,571],"nice":false,"zero":false}},"y":{"datum":-2.89,"type":"quantitative","scale":{"domain":[0,10],"range":[438,400],"nice":false,"zero":false}},"y2":{"datum":10}}},
{"data":{"name":"sel"},"mark":{"type":"bar","size":13,"stroke":"#444444","strokeWidth":1,"cornerRadius":2,"fill":{"gradient":"linear","x1":0,"y1":0,"x2":1,"y2":0,"stops":[{"offset":0,"color":"#ffffff"},{"offset":1,"color":"#bdbdbd"}]}},"encoding":{"x":{"field":"t","type":"quantitative","scale":{"domain":[0,100],"range":[0,571],"nice":false,"zero":false}},"y":{"datum":1.05,"type":"quantitative","scale":{"domain":[0,10],"range":[438,400],"nice":false,"zero":false}},"y2":{"datum":8.68}}},
{"data":{"name":"sel"},"mark":{"type":"text","align":"center","baseline":"middle","fontSize":9,"fill":"#111111"},"encoding":{"x":{"field":"t","type":"quantitative","scale":{"domain":[0,100],"range":[0,571],"nice":false,"zero":false}},"y":{"datum":4.9,"type":"quantitative","scale":{"domain":[0,10],"range":[438,400],"nice":false,"zero":false}},"text":{"field":"a"}}},
{"data":{"name":"hdr"},"mark":{"type":"text","align":"left","baseline":"middle","font":"Noto Sans CJK JP","fontSize":12,"fill":"#111111"},"encoding":{"x":{"field":"f","type":"nominal","scale":{"type":"point","domain":["open","high","low","close"],"range":[163.6,441],"padding":0}},"y":{"datum":10,"type":"quantitative","scale":{"domain":[0,20],"range":[0,20],"nice":false,"zero":false}},"text":{"field":"k"}}},
{"data":{"name":"hdr"},"mark":{"type":"text","align":"left","baseline":"middle","fontSize":13.5,"fontWeight":"bold"},"encoding":{"x":{"field":"f","type":"nominal","scale":{"type":"point","domain":["open","high","low","close"],"range":[193,470],"padding":0}},"y":{"datum":10,"type":"quantitative","scale":{"domain":[0,20],"range":[0,20],"nice":false,"zero":false}},"text":{"field":"v"},"color":{"field":"f","type":"nominal","scale":{"domain":["open","high","low","close"],"range":["#111111","#ff0000","#008800","#111111"]},"legend":null}}},
{"data":{"values":[{"k":"日付","v":"2023/10/18 15:00"}]},"mark":{"type":"text","align":"left","baseline":"middle","font":"Noto Sans CJK JP","fontSize":12,"fill":"#111111"},"encoding":{"x":{"datum":3.8,"type":"quantitative","scale":{"domain":[0,633],"range":[0,633],"nice":false,"zero":false}},"y":{"datum":10,"type":"quantitative","scale":{"domain":[0,20],"range":[0,20],"nice":false,"zero":false}},"text":{"field":"k"}}},
{"data":{"values":[{"k":"日付","v":"2023/10/18 15:00"}]},"mark":{"type":"text","align":"left","baseline":"middle","fontSize":13,"fill":"#111111"},"encoding":{"x":{"datum":31.8,"type":"quantitative","scale":{"domain":[0,633],"range":[0,633],"nice":false,"zero":false}},"y":{"datum":10,"type":"quantitative","scale":{"domain":[0,20],"range":[0,20],"nice":false,"zero":false}},"text":{"field":"v"}}}
]
}
